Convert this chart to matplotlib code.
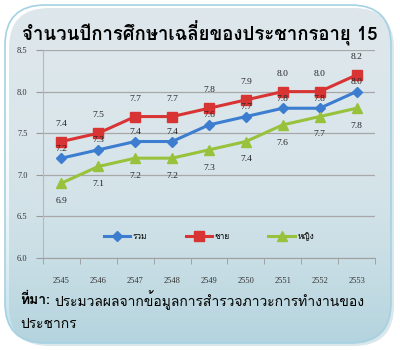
import matplotlib
matplotlib.use("Agg")
import matplotlib.pyplot as plt
import numpy as np
from matplotlib.patches import FancyBboxPatch

years = ["2545", "2546", "2547", "2548", "2549", "2550", "2551", "2552", "2553"]
total = [7.2, 7.3, 7.4, 7.4, 7.6, 7.7, 7.8, 7.8, 8.0]
male = [7.4, 7.5, 7.7, 7.7, 7.8, 7.9, 8.0, 8.0, 8.2]
female = [6.9, 7.1, 7.2, 7.2, 7.3, 7.4, 7.6, 7.7, 7.8]
yticks = [6.0, 6.5, 7.0, 7.5, 8.0, 8.5]

title = "จำนวนปีการศึกษาเฉลี่ยของประชากรอายุ 15"
source_head = "ที่มา:"
source_body = "ประมวลผลจากข้อมูลการสำรวจภาวะการทำงานของ"
source_tail = "ประชากร"

thai = ["Loma", "Noto Sans Thai Looped", "DejaVu Sans"]
num = ["Liberation Serif", "DejaVu Serif"]

fig = plt.figure(figsize=(4, 3.5), dpi=100)
fig.patch.set_facecolor("white")

# rounded panel with vertical gradient
W, H = 400, 350
bg = fig.add_axes([0, 0, 1, 1], zorder=-10)
bg.set_xlim(0, W)
bg.set_ylim(0, H)
bg.axis("off")
shadow = FancyBboxPatch((9, 4), 385, 338, boxstyle="round,pad=0,rounding_size=40",
                        facecolor="#a9c4cf", edgecolor="none", alpha=0.4)
bg.add_patch(shadow)
panel = FancyBboxPatch((5, 7), 386, 338, boxstyle="round,pad=0,rounding_size=40",
                       facecolor="none", edgecolor="#a4d2e2", linewidth=1.2)
bg.add_patch(panel)
t = np.linspace(0, 1, 256).reshape(-1, 1)
w = (1 - t) ** 2.6  # weight of the blue tone, strongest at the bottom
top_c = np.array([1.0, 1.0, 1.0])
bot_c = np.array([0.73, 0.87, 0.91])
img = w[..., None] * bot_c + (1 - w)[..., None] * top_c
im = bg.imshow(img, extent=[5, 391, 7, 345], origin="lower", aspect="auto")
im.set_clip_path(panel)

ax = fig.add_axes([43 / W, 1 - 258 / H, (375 - 43) / W, (258 - 50) / H])
ax.set_facecolor("none")
x = np.arange(len(years))

ax.plot(x, total, color="#3c7dd0", lw=2.2, marker="D", ms=5.5, label="รวม", zorder=3)
ax.plot(x, male, color="#d83434", lw=2.2, marker="s", ms=7, label="ชาย", zorder=3)
ax.plot(x, female, color="#98c23c", lw=2.2, marker="^", ms=7, label="หญิง", zorder=3)

lab = dict(fontsize=6.8, family=num, color="#222222")
for xi, v in zip(x, total):
    ax.annotate(f"{v:.1f}", (xi, v), xytext=(0, 4), textcoords="offset points",
                ha="center", va="bottom", **lab)
for xi, v in zip(x, male):
    ax.annotate(f"{v:.1f}", (xi, v), xytext=(0, 10), textcoords="offset points",
                ha="center", va="bottom", **lab)
for xi, v in zip(x, female):
    ax.annotate(f"{v:.1f}", (xi, v), xytext=(0, -10), textcoords="offset points",
                ha="center", va="top", **lab)

ax.set_xlim(-0.5, len(years) - 0.5)
ax.set_ylim(6.0, 8.5)
ax.set_yticks(yticks)
ax.set_yticklabels([f"{v:.1f}" for v in yticks], family=num, fontsize=6, color="#333333")
ax.set_xticks(x)
ax.set_xticklabels(years, family=num, fontsize=6, color="#333333")
ax.set_xticks(np.arange(-0.5, len(years)), minor=True)
ax.tick_params(axis="x", which="major", length=0, pad=14)
ax.tick_params(axis="x", which="minor", length=4, color="#9a9a9a", direction="out")
ax.tick_params(axis="y", length=5, color="#9a9a9a", pad=6)
ax.grid(axis="y", color="#a8a8a8", lw=0.9)
for s in ["top", "right"]:
    ax.spines[s].set_visible(False)
ax.spines["left"].set_color("#b8b8b8")
ax.spines["bottom"].set_color("#a0a0a0")

leg = ax.legend(loc="center", bbox_to_anchor=(0.5, 0.105), ncol=3, frameon=False,
                handlelength=3.2, columnspacing=4.6, handletextpad=0.3,
                prop={"family": thai, "size": 6})

fig.text(0.5, 1 - 33 / H, title, ha="center", va="center", fontsize=13.4,
         fontweight="bold", family=thai, color="black")

renderer = fig.canvas.get_renderer()
head = fig.text(20 / W, 1 - 300 / H, source_head, ha="left", va="center", fontsize=10,
                fontweight="bold", family=thai, color="black")
bb = head.get_window_extent(renderer)
fig.text(bb.x1 / W + 4 / W, 1 - 300 / H, source_body, ha="left", va="center",
         fontsize=10, family=thai, color="black")
fig.text(20 / W, 1 - 325 / H, source_tail, ha="left", va="center", fontsize=10,
         family=thai, color="black")

fig.savefig("out.png", dpi=100)
